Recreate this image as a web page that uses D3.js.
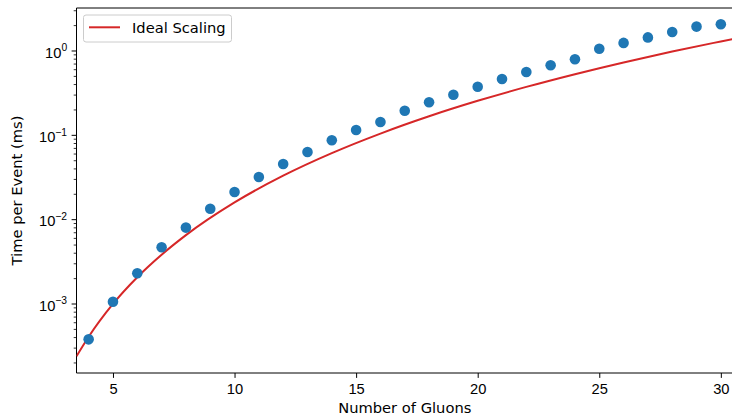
<!DOCTYPE html>
<html>
<head>
<meta charset="utf-8">
<script src="https://cdn.jsdelivr.net/npm/d3@7"></script>
<style>
    body { margin: 0; background: #fff; }
    svg { display: block; font-family: "DejaVu Sans", sans-serif; }
</style>
</head>
<body>
<div id="chart"></div>
<script>
"use strict";

// Measured time per event for each gluon count
var gluons = [4, 5, 6, 7, 8, 9, 10, 11, 12, 13, 14, 15, 16, 17, 18, 19, 20,
    21, 22, 23, 24, 25, 26, 27, 28, 29, 30];
var timePerEvent = [3.76e-4, 1.05e-3, 2.28e-3, 4.64e-3, 7.94e-3, 1.33e-2, 2.10e-2,
    3.16e-2, 4.51e-2, 6.25e-2, 8.61e-2, 0.114, 0.142, 0.193, 0.243, 0.299, 0.372,
    0.459, 0.556, 0.667, 0.787, 1.05, 1.23, 1.43, 1.66, 1.92, 2.05];

// Ideal scaling curve
var idealX = [3.5, 4, 5, 6, 7, 8, 10, 12, 14, 16, 18, 20, 22, 24, 26, 28, 30, 30.5];
var idealY = [2.37e-4, 4.04e-4, 9.9e-4, 2.05e-3, 3.79e-3, 6.47e-3, 1.58e-2, 3.28e-2,
    6.07e-2, 0.1035, 0.166, 0.253, 0.370, 0.524, 0.722, 0.971, 1.28, 1.37];

var xTicks = [5, 10, 15, 20, 25, 30];
var yExponents = [-3, -2, -1, 0];

var FS = 14.7;
var W = 732, H = 418;
var margin = { top: 8, right: -1, bottom: 45, left: 76.5 };
var width = W - margin.left - margin.right,
    height = H - margin.top - margin.bottom;

var svg = d3.select("#chart")
    .append("svg")
    .attr("width", W)
    .attr("height", H);

var g = svg.append("g")
    .attr("transform", "translate(" + margin.left + "," + margin.top + ")");

var x = d3.scaleLinear()
    .domain([3.5, 30.5])
    .range([0, width]);

var y = d3.scaleLog()
    .domain([1.5e-4, 3.19])
    .range([height, 0]);

g.append("clipPath").attr("id", "clip")
    .append("rect").attr("width", width).attr("height", height);

// Minor log ticks
var minorTicks = [];
for (var e = -4; e <= 0; e++) {
    for (var m = 2; m <= 9; m++) {
        var v = m * Math.pow(10, e);
        if (v >= y.domain()[0] && v <= y.domain()[1]) minorTicks.push(v);
    }
}

// X axis
var xAxis = g.append("g")
    .attr("transform", "translate(0," + height + ")")
    .call(d3.axisBottom(x).tickValues(xTicks).tickSize(4.9).tickPadding(5.5).tickFormat(d3.format("d")));
xAxis.select(".domain").remove();
xAxis.selectAll("text").attr("font-size", FS).attr("fill", "#000");
xAxis.selectAll("line").attr("stroke", "#000").attr("stroke-width", 1);

// Y axis major
var yAxis = g.append("g")
    .call(d3.axisLeft(y).tickValues(yExponents.map(function (d) { return Math.pow(10, d); }))
        .tickSize(4.9).tickPadding(4.5).tickFormat(function () { return ""; }));
yAxis.select(".domain").remove();
yAxis.selectAll("line").attr("stroke", "#000").attr("stroke-width", 1);
yAxis.selectAll(".tick text").each(function (d) {
    var ex = Math.round(Math.log10(d));
    var t = d3.select(this)
        .attr("font-size", FS).attr("fill", "#000").attr("dy", "0.45em");
    t.append("tspan").text("10");
    t.append("tspan").text(ex === 0 ? "0" : "\u2212" + Math.abs(ex))
        .attr("font-size", 10.3).attr("dy", "-0.6em");
});

// Y axis minor
var yMinor = g.append("g")
    .call(d3.axisLeft(y).tickValues(minorTicks).tickSize(2.8).tickFormat(""));
yMinor.select(".domain").remove();
yMinor.selectAll("line").attr("stroke", "#000").attr("stroke-width", 0.8);

// Spines
g.append("line").attr("x1", 0).attr("x2", 0).attr("y1", 0).attr("y2", height)
    .attr("stroke", "#000").attr("stroke-width", 1);
g.append("line").attr("x1", 0).attr("x2", width).attr("y1", height).attr("y2", height)
    .attr("stroke", "#000").attr("stroke-width", 1);
g.append("line").attr("x1", 0).attr("x2", width).attr("y1", 0).attr("y2", 0)
    .attr("stroke", "#000").attr("stroke-width", 1);

// Ideal scaling line
var idealData = idealX.map(function (d, i) { return { x: d, y: idealY[i] }; });
g.append("path")
    .datum(idealData)
    .attr("clip-path", "url(#clip)")
    .attr("fill", "none")
    .attr("stroke", "#d62728")
    .attr("stroke-width", 2)
    .attr("d", d3.line()
        .x(function (d) { return x(d.x); })
        .y(function (d) { return y(d.y); })
        .curve(d3.curveMonotoneX));

// Measured points
g.selectAll("circle.pt")
    .data(gluons)
    .enter().append("circle")
    .attr("class", "pt")
    .attr("cx", function (d) { return x(d); })
    .attr("cy", function (d, i) { return y(timePerEvent[i]); })
    .attr("r", 5.3)
    .attr("fill", "#1f77b4");

// Legend
var legend = g.append("g").attr("transform", "translate(7,7)");
legend.append("rect")
    .attr("width", 148).attr("height", 27).attr("rx", 2.5)
    .attr("fill", "#fff").attr("fill-opacity", 0.8)
    .attr("stroke", "#ccc").attr("stroke-width", 1);
legend.append("line")
    .attr("x1", 5.5).attr("x2", 36.5).attr("y1", 12.3).attr("y2", 12.3)
    .attr("stroke", "#d62728").attr("stroke-width", 2);
legend.append("text")
    .attr("x", 48.5).attr("y", 17.6)
    .attr("font-size", FS)
    .text("Ideal Scaling");

// Axis labels
svg.append("text")
    .attr("x", margin.left + x(17))
    .attr("y", 413)
    .attr("text-anchor", "middle")
    .attr("font-size", FS)
    .text("Number of Gluons");
svg.append("text")
    .attr("transform", "translate(22," + (margin.top + height / 2) + ") rotate(-90)")
    .attr("text-anchor", "middle")
    .attr("font-size", FS)
    .text("Time per Event (ms)");
</script>
</body>
</html>
